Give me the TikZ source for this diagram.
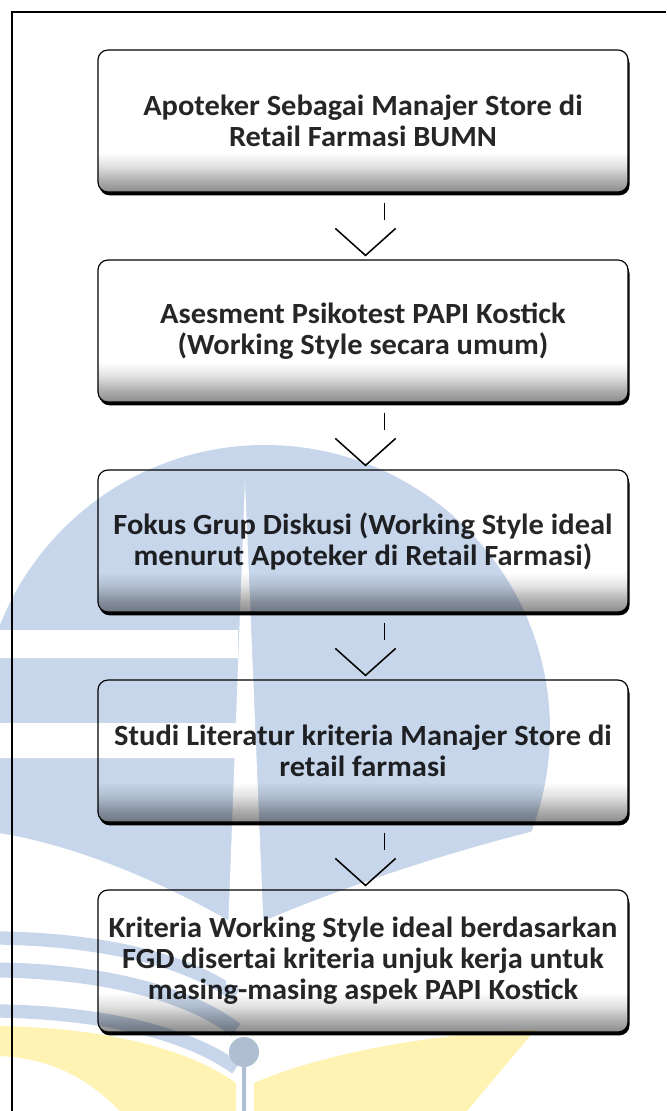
\documentclass[tikz,border=0pt]{standalone}
\usepackage{fontspec}
\newfontfamily\boxfont{Carlito}[FakeStretch=1.04]
\usetikzlibrary{shadows}
\definecolor{wmblue}{RGB}{199,214,234}
\definecolor{wmyellow}{RGB}{255,243,180}
\definecolor{wmnib}{RGB}{176,190,210}
\pgfdeclareverticalshading{boxfade}{100bp}{color(0bp)=(black!45); color(25bp)=(black!45); color(29bp)=(black!32); color(34bp)=(black!12); color(39bp)=(white); color(100bp)=(white)}
\tikzset{
    stepbox/.style={draw, line width=1pt, rounded corners=0.3cm, minimum width=15.9cm, minimum height=4.26cm,
        align=center, inner sep=0pt, shade, shading=boxfade,
        drop shadow={shadow xshift=0.045cm, shadow yshift=-0.1cm, fill=black, opacity=1},
        font=\boxfont\bfseries\fontsize{25}{26.5}\selectfont, text=black!85},
    tick/.style={line width=0.9pt},
    chevron/.style={line width=1.3pt}
}
\begin{document}
\begin{tikzpicture}[x=0.03cm, y=-0.03cm]
            \useasboundingbox (0, 0) rectangle (666, 1111);
            \draw[line width=1.4pt] (12, 1111) -- (12, 12) -- (666, 12);
            \node[stepbox] (b1) at (363, 121) {Apoteker Sebagai Manajer Store di\\Retail Farmasi BUMN};
            \node[stepbox] (b2) at (363, 331) {Asesment Psikotest PAPI Kostick\\(Working Style secara umum)};
            \node[stepbox] (b3) at (363, 541) {Fokus Grup Diskusi (Working Style ideal\\menurut Apoteker di Retail Farmasi)};
            \node[stepbox] (b4) at (363, 751) {Studi Literatur kriteria Manajer Store di\\retail farmasi};
            \node[stepbox] (b5) at (363, 961) {Kriteria Working Style ideal berdasarkan\\FGD disertai kriteria unjuk kerja untuk\\masing-masing aspek PAPI Kostick};
            \foreach \a/\b in {b1/b2, b2/b3, b3/b4, b4/b5} {
                \draw[tick] ([xshift=0.645cm, yshift=-0.3cm]\a.south) -- ([xshift=0.645cm, yshift=-0.81cm]\a.south);
                \draw[chevron] ([xshift=-0.83cm, yshift=0.93cm]\b.north) -- ([xshift=0.075cm, yshift=0.12cm]\b.north) -- ([xshift=0.98cm, yshift=0.93cm]\b.north);
            }
            \begin{scope}[blend mode=multiply]
                \begin{scope}[transparency group]
                    \fill[wmblue] (265, 730) circle[radius=285];
                    \fill[white] (-25, 630) rectangle (238, 658);
                    \fill[white] (-25, 723) rectangle (238, 758);
                    \fill[white] (-25, 830) .. controls (60, 838) and (160, 880) .. (236, 925) -- (254, 925) .. controls (360, 880) and (470, 845) .. (580, 820) -- (580, 1111) -- (-25, 1111) -- cycle;
                    \draw[wmblue, line width=0.4cm] (0, 938) .. controls (110, 940) and (190, 962) .. (236, 995);
                    \draw[wmblue, line width=0.45cm] (0, 970) .. controls (110, 972) and (190, 995) .. (236, 1030);
                    \draw[wmblue, line width=0.4cm] (0, 1011) .. controls (110, 1013) and (190, 1035) .. (236, 1068);
                    \fill[wmyellow] (0, 1026) .. controls (110, 1028) and (190, 1050) .. (236, 1083) -- (236, 1111) -- (120, 1111) .. controls (80, 1070) and (40, 1058) .. (0, 1056) -- cycle;
                    \fill[wmyellow] (254, 1083) .. controls (330, 1050) and (450, 1032) .. (535, 1030) -- (467, 1111) -- (254, 1111) -- cycle;
                    \fill[white] (245, 480) -- (266, 985) -- (226, 985) -- cycle;
                    \fill[wmnib] (244, 1052) circle[radius=15];
                    \draw[wmnib, line width=0.12cm] (244, 1052) -- (244, 1111);
                \end{scope}
            \end{scope}
\end{tikzpicture}
\end{document}
